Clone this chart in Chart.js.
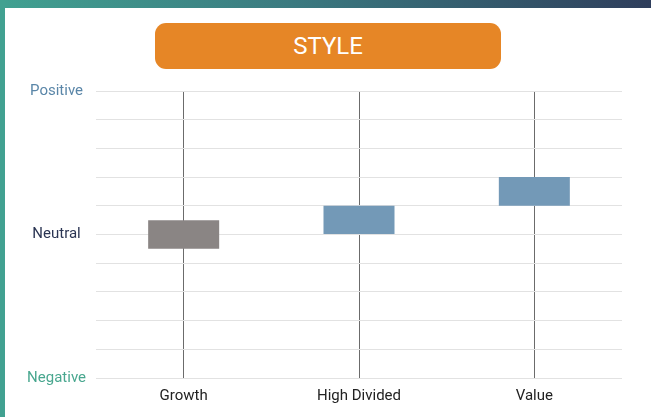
<!DOCTYPE html>
<html>
<head>
<meta charset="utf-8">
<script src="https://cdn.jsdelivr.net/npm/chart.js"></script>
<style>
  body { margin: 0; background: #fff; font-family: Roboto, sans-serif; }
  #wrap { position: relative; width: 651px; height: 417px; overflow: hidden; }
  #topbar { position: absolute; left: 0; top: 0; width: 651px; height: 8px;
            background: linear-gradient(to right, #41a191, #3b7a80 45%, #2f3e5c); }
  #leftbar { position: absolute; left: 0; top: 0; width: 5px; height: 417px; background: #41a191; }
  #title { position: absolute; left: 155px; top: 23px; width: 346px; height: 46px;
           background: #e68626; border-radius: 11px; color: #fff;
           font-size: 24px; line-height: 46px; text-align: center; }
  canvas { position: absolute; left: 0; top: 0; }
</style>
</head>
<body>
<div id="wrap">
  <canvas id="chartStyle" width="651" height="417"></canvas>
  <div id="topbar"></div>
  <div id="leftbar"></div>
  <div id="title">STYLE</div>
</div>

<script>
    // du lieu
    const categories = ['Growth', 'High Divided', 'Value'];
    const lowValues = [-0.5, 0, 1];
    const highValues = [0.5, 1, 2];
    const barColors = ['#8a8584', '#7399b7', '#7399b7'];

    const tickValues = [5, 0, -5];
    const tickLabels = ['Positive', 'Neutral', 'Negative'];
    const tickColors = ['#5a86a8', '#2b3553', '#49a78f'];

    let styleData = {
        labels: categories,
        datasets: [{
            data: categories.map((c, i) => [lowValues[i], highValues[i]]),
            backgroundColor: barColors,
            borderWidth: 0,
            categoryPercentage: 1,
            barPercentage: 0.405
        }]
    };

    let ctx = document.getElementById('chartStyle').getContext('2d');
    let myChart = new Chart(ctx, {
        type: 'bar',
        data: styleData,
        options: {
            responsive: false,
            animation: false,
            layout: { padding: { top: 91, right: 29, left: 0, bottom: 0 } },
            plugins: {
                legend: { display: false },
                tooltip: { enabled: false }
            },
            scales: {
                x: {
                    border: { display: false },
                    grid: { offset: false, color: '#6b6b6b', lineWidth: 1, drawTicks: false },
                    ticks: { color: '#222', padding: 9, font: { family: 'Roboto', size: 15 } },
                    afterFit: (scale) => { scale.height = 39; }
                },
                y: {
                    min: -5,
                    max: 5,
                    border: { display: false },
                    grid: { color: '#e2e2e2', lineWidth: 1, drawTicks: false },
                    ticks: {
                        stepSize: 1,
                        autoSkip: false,
                        padding: 10,
                        crossAlign: 'center',
                        font: { family: 'Roboto', size: 15 },
                        color: (c) => {
                            let i = tickValues.indexOf(c.tick.value);
                            return i >= 0 ? tickColors[i] : '#000';
                        },
                        callback: (v) => {
                            let i = tickValues.indexOf(v);
                            return i >= 0 ? tickLabels[i] : '';
                        }
                    },
                    afterFit: (scale) => { scale.width = 96; }
                }
            }
        }
    });
</script>
</body>
</html>
